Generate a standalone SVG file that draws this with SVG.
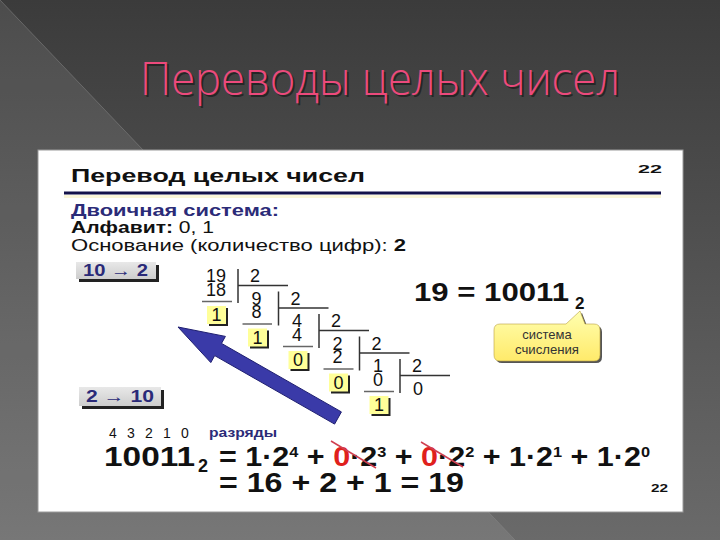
<svg xmlns="http://www.w3.org/2000/svg" width="720" height="540" viewBox="0 0 720 540">
<defs>
<linearGradient id="bg" x1="0" y1="0" x2="0" y2="1"><stop offset="0" stop-color="#3b3b3b"/><stop offset="1" stop-color="#6a6a6a"/></linearGradient>
<linearGradient id="btn" x1="0" y1="0" x2="0" y2="1"><stop offset="0" stop-color="#e8e8e8"/><stop offset="1" stop-color="#cdcdcd"/></linearGradient>
<linearGradient id="yel" x1="0" y1="0" x2="0" y2="1"><stop offset="0" stop-color="#ffffb0"/><stop offset="1" stop-color="#ffea6a"/></linearGradient>
<style>
.t{font-family:"Liberation Sans",Arial,sans-serif}
.d{font-family:"Liberation Sans",Arial,sans-serif;font-size:18px;fill:#111;text-anchor:middle}
.eq{font-family:"Liberation Sans",Arial,sans-serif;font-weight:bold;font-size:28px;fill:#111}
.sup{font-size:15px}
.red{fill:#e0201c}
.ln{stroke:#333;stroke-width:1.5;fill:none}
.ul{stroke:#666;stroke-width:1.5;fill:none}
.rb{fill:#ffff99}
.rs{fill:#222}
.btn{fill:url(#btn)}
.btxt{font-family:"Liberation Sans",Arial,sans-serif;font-weight:bold;font-size:16px;fill:#2a2a78}
.strike{stroke:#d04050;stroke-width:1.5}
</style>
</defs>

<rect x="0" y="0" width="720" height="540" fill="url(#bg)"/>
<polygon points="0,0 515,540 0,540" fill="#ffffff" fill-opacity="0.09"/>
<line x1="0" y1="0" x2="515" y2="540" stroke="#8a8a8a" stroke-opacity="0.5" stroke-width="1"/>

<g id="slide-title">
<text x="140" y="95" font-size="46" font-weight="300" fill="#1a1a1a" fill-opacity="0.7" textLength="480" lengthAdjust="spacingAndGlyphs" transform="translate(2,2)" style="font-family:'Open Sans','Liberation Sans',sans-serif">Переводы целых чисел</text>
<text x="140" y="95" font-size="46" font-weight="300" fill="#ec4a7c" textLength="480" lengthAdjust="spacingAndGlyphs" style="font-family:'Open Sans','Liberation Sans',sans-serif">Переводы целых чисел</text>
</g>

<g id="panel">
<rect x="38" y="150" width="645" height="362" fill="#ffffff" stroke="#9a9a9a" stroke-width="1"/>
<text x="71" y="182" class="t" font-size="19" font-weight="bold" fill="#111" textLength="294" lengthAdjust="spacingAndGlyphs">Перевод целых чисел</text>
<text x="638" y="173" class="t" font-size="11" font-weight="bold" fill="#111" textLength="24" lengthAdjust="spacingAndGlyphs">22</text>
<line x1="64" y1="193" x2="661" y2="193" stroke="#14124a" stroke-width="3"/>
<line x1="64" y1="196.5" x2="661" y2="196.5" stroke="#fbf6d8" stroke-width="3"/>
<text x="71" y="216" class="t" font-size="16" font-weight="bold" fill="#2b2b78" textLength="208" lengthAdjust="spacingAndGlyphs">Двоичная система:</text>
<text x="71" y="233" class="t" font-size="16" fill="#111" textLength="143" lengthAdjust="spacingAndGlyphs"><tspan font-weight="bold">Алфавит:</tspan> 0, 1</text>
<text x="71" y="251" class="t" font-size="16" fill="#111" textLength="335" lengthAdjust="spacingAndGlyphs">Основание (количество цифр): <tspan font-weight="bold">2</tspan></text>
<text x="651" y="492" class="t" font-size="11" font-weight="bold" fill="#111" textLength="17" lengthAdjust="spacingAndGlyphs">22</text>
</g>

<g id="btn-10-2">
<rect x="79" y="265" width="80" height="17" class="rs"/>
<rect x="76" y="262" width="80" height="17" class="btn"/>
<text x="83" y="276" class="btxt" textLength="65" lengthAdjust="spacingAndGlyphs">10 → 2</text>
</g>
<g id="btn-2-10">
<rect x="82" y="390" width="82" height="19" class="rs"/>
<rect x="79" y="387" width="82" height="19" class="btn"/>
<text x="86" y="402" class="btxt" textLength="68" lengthAdjust="spacingAndGlyphs">2 → 10</text>
</g>

<g id="division">
<text x="216" y="282" class="d">19</text>
<text x="216" y="295.5" class="d">18</text>
<text x="255" y="282" class="d">2</text>
<line x1="238" y1="269" x2="238" y2="303" class="ln"/>
<line x1="238" y1="285.5" x2="288" y2="285.5" class="ln"/>
<line x1="202" y1="301.5" x2="232" y2="301.5" class="ul"/>
<rect x="209" y="308" width="19" height="18" class="rs"/>
<rect x="207" y="306" width="19" height="18" class="rb"/>
<text x="216.5" y="321" class="d">1</text>

<text x="256.5" y="304.5" class="d">9</text>
<text x="256.5" y="318" class="d">8</text>
<text x="295.5" y="304.5" class="d">2</text>
<line x1="278.5" y1="291.5" x2="278.5" y2="325.5" class="ln"/>
<line x1="278.5" y1="308" x2="328.5" y2="308" class="ln"/>
<line x1="242.5" y1="324" x2="272" y2="324" class="ul"/>
<rect x="250" y="330.5" width="19" height="18" class="rs"/>
<rect x="248" y="328.5" width="19" height="18" class="rb"/>
<text x="257.5" y="343.5" class="d">1</text>

<text x="297" y="327" class="d">4</text>
<text x="297" y="340.5" class="d">4</text>
<text x="336" y="327" class="d">2</text>
<line x1="319" y1="314" x2="319" y2="348" class="ln"/>
<line x1="319" y1="330.5" x2="369" y2="330.5" class="ln"/>
<line x1="283" y1="346.5" x2="313" y2="346.5" class="ul"/>
<rect x="290.5" y="353" width="19" height="18" class="rs"/>
<rect x="288.5" y="351" width="19" height="18" class="rb"/>
<text x="298" y="366" class="d">0</text>

<text x="337.5" y="349.5" class="d">2</text>
<text x="337.5" y="363" class="d">2</text>
<text x="376.5" y="349.5" class="d">2</text>
<line x1="359.5" y1="336.5" x2="359.5" y2="370.5" class="ln"/>
<line x1="359.5" y1="353" x2="409.5" y2="353" class="ln"/>
<line x1="323.5" y1="369" x2="353.5" y2="369" class="ul"/>
<rect x="331" y="375.5" width="19" height="18" class="rs"/>
<rect x="329" y="373.5" width="19" height="18" class="rb"/>
<text x="338.5" y="388.5" class="d">0</text>

<text x="378" y="372" class="d">1</text>
<text x="378" y="385.5" class="d">0</text>
<text x="417" y="372" class="d">2</text>
<line x1="400" y1="359" x2="400" y2="393" class="ln"/>
<line x1="400" y1="375.5" x2="450" y2="375.5" class="ln"/>
<line x1="364" y1="391.5" x2="394" y2="391.5" class="ul"/>
<rect x="371.5" y="398" width="19" height="18" class="rs"/>
<rect x="369.5" y="396" width="19" height="18" class="rb"/>
<text x="379" y="411" class="d">1</text>

<text x="418" y="394.5" class="d">0</text>
</g>

<g id="connectors">
<polygon points="178,327 225.4,336.4 221.5,343.4 341.4,411.9 334.6,424.1 214.7,355.6 210.8,362.6" fill="#3a3aa8" stroke="#1e1e70" stroke-width="1" stroke-linejoin="round"/>
</g>

<g id="result">
<text x="414" y="301" class="eq" style="font-size:25px" textLength="155" lengthAdjust="spacingAndGlyphs">19 = 10011</text>
<text x="575" y="309" class="eq" style="font-size:17px">2</text>
</g>

<g id="callout">
<path d="M500,324 H566 L580,311 L585,324 H594 Q600,324 600,330 V355 Q600,361 594,361 H500 Q494,361 494,355 V330 Q494,324 500,324 Z" fill="#555" transform="translate(2,2)"/>
<path d="M500,324 H566 L580,311 L585,324 H594 Q600,324 600,330 V355 Q600,361 594,361 H500 Q494,361 494,355 V330 Q494,324 500,324 Z" fill="url(#yel)" stroke="#b8a040" stroke-width="0.6"/>
<text x="547" y="339" class="t" font-size="13" fill="#333" text-anchor="middle">система</text>
<text x="547" y="354" class="t" font-size="13" fill="#333" text-anchor="middle" textLength="64" lengthAdjust="spacingAndGlyphs">счисления</text>
</g>

<g id="expansion">
<g class="t" font-size="14" fill="#111" text-anchor="middle">
<text x="113" y="438">4</text><text x="131" y="438">3</text><text x="149" y="438">2</text><text x="167" y="438">1</text><text x="185" y="438">0</text>
</g>
<text x="209" y="437" class="t" font-size="12" font-weight="bold" fill="#2b2b78" textLength="68" lengthAdjust="spacingAndGlyphs">разряды</text>
<text x="104" y="466" class="eq" textLength="91" lengthAdjust="spacingAndGlyphs">10011</text>
<text x="198" y="472" class="eq" style="font-size:18px">2</text>

<text x="219" y="466" class="eq" textLength="431" lengthAdjust="spacingAndGlyphs">= 1·2<tspan dy="-9" class="sup">4</tspan><tspan dy="9"> + </tspan><tspan class="red">0</tspan>·2<tspan dy="-9" class="sup">3</tspan><tspan dy="9"> + </tspan><tspan class="red">0</tspan>·2<tspan dy="-9" class="sup">2</tspan><tspan dy="9"> + 1·2</tspan><tspan dy="-9" class="sup">1</tspan><tspan dy="9"> + 1·2</tspan><tspan dy="-9" class="sup">0</tspan></text>
<line x1="331" y1="441" x2="376" y2="468" class="strike"/>
<line x1="421" y1="442" x2="463" y2="467" class="strike"/>

<text x="219" y="492" class="eq" textLength="245" lengthAdjust="spacingAndGlyphs">= 16 + 2 + 1 = 19</text>
</g>
</svg>
